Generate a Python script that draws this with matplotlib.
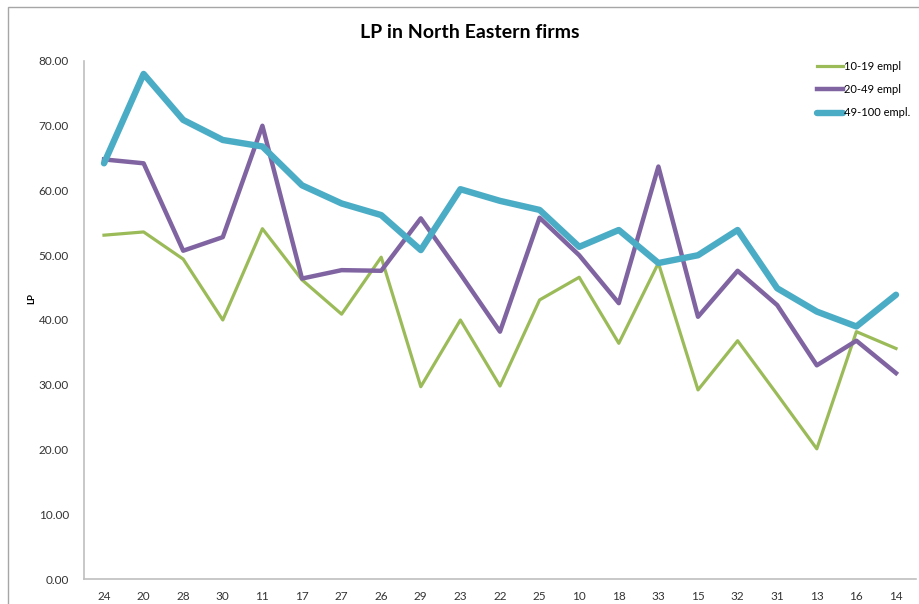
import numpy as np
import matplotlib.pyplot as plt
from matplotlib.patches import Rectangle
from matplotlib.ticker import FormatStrFormatter

plt.rcParams['font.family'] = ['Lato', 'DejaVu Sans']

regions = ['24', '20', '28', '30', '11', '17', '27', '26', '29', '23', '22',
           '25', '10', '18', '33', '15', '32', '31', '13', '16', '14']
lp_10_19 = [53.1, 53.6, 49.4, 40.0, 54.1, 46.2, 40.9, 49.7, 29.7, 40.0, 29.8,
            43.1, 46.6, 36.4, 48.8, 29.2, 36.8, 28.5, 20.1, 38.2, 35.6]
lp_20_49 = [64.8, 64.2, 50.7, 52.8, 70.0, 46.4, 47.7, 47.6, 55.7, 47.1, 38.2,
            55.8, 50.0, 42.6, 63.7, 40.5, 47.6, 42.3, 33.0, 36.8, 31.8]
lp_49_100 = [64.2, 78.0, 70.9, 67.8, 66.8, 60.8, 58.0, 56.2, 50.8, 60.2, 58.4,
             57.0, 51.3, 53.9, 48.8, 50.0, 53.9, 44.9, 41.3, 39.0, 43.9]

fig = plt.figure(figsize=(9.19, 6.04), dpi=100)
ax = fig.add_axes([84.2/919, 25/604, (915.8-84.2)/919, 518/604])

x = np.arange(len(regions))
ax.plot(x, lp_10_19, color='#9BBB59', lw=2.3, label='10-19 empl', solid_joinstyle='round')
ax.plot(x, lp_20_49, color='#8064A2', lw=3.2, label='20-49 empl', solid_joinstyle='round')
ax.plot(x, lp_49_100, color='#4BACC6', lw=4.6, label='49-100 empl.', solid_joinstyle='round',
        solid_capstyle='round')

ax.set_xlim(-0.5, len(regions) - 0.5)
ax.set_ylim(0, 80)
ax.set_xticks(x)
ax.set_xticklabels(regions)
ax.set_yticks(np.arange(0, 81, 10))
ax.yaxis.set_major_formatter(FormatStrFormatter('%.2f'))
ax.tick_params(length=0, labelsize=8.5, colors='#333333')
ax.tick_params(axis='y', pad=11)
ax.tick_params(axis='x', pad=9)

for s in ['top', 'right']:
    ax.spines[s].set_visible(False)
for s in ['left', 'bottom']:
    ax.spines[s].set_color('#BFBFBF')
    ax.spines[s].set_linewidth(1.2)

# y label placed by hand, like the Excel chart
fig.text(32/919, 1 - 298/604, 'LP', rotation=90, ha='center', va='center',
         fontsize=7, fontweight='bold')
fig.text(470/919, 1 - 32/604, 'LP in North Eastern firms', ha='center', va='center',
         fontsize=14, fontweight='bold')

ax.legend(loc='upper left', bbox_to_anchor=(817/919, 1 - 61/604), bbox_transform=fig.transFigure,
          frameon=False, fontsize=8, handlelength=2.3, handletextpad=0.1, labelspacing=1.1,
          borderaxespad=0, borderpad=0)

fig.patches.append(Rectangle((8/919, -0.1), 1.2, (1 - 7/604) + 0.1, transform=fig.transFigure,
                             fill=False, edgecolor='#A6A6A6', lw=1.0))

fig.savefig('out.png', dpi=100)
